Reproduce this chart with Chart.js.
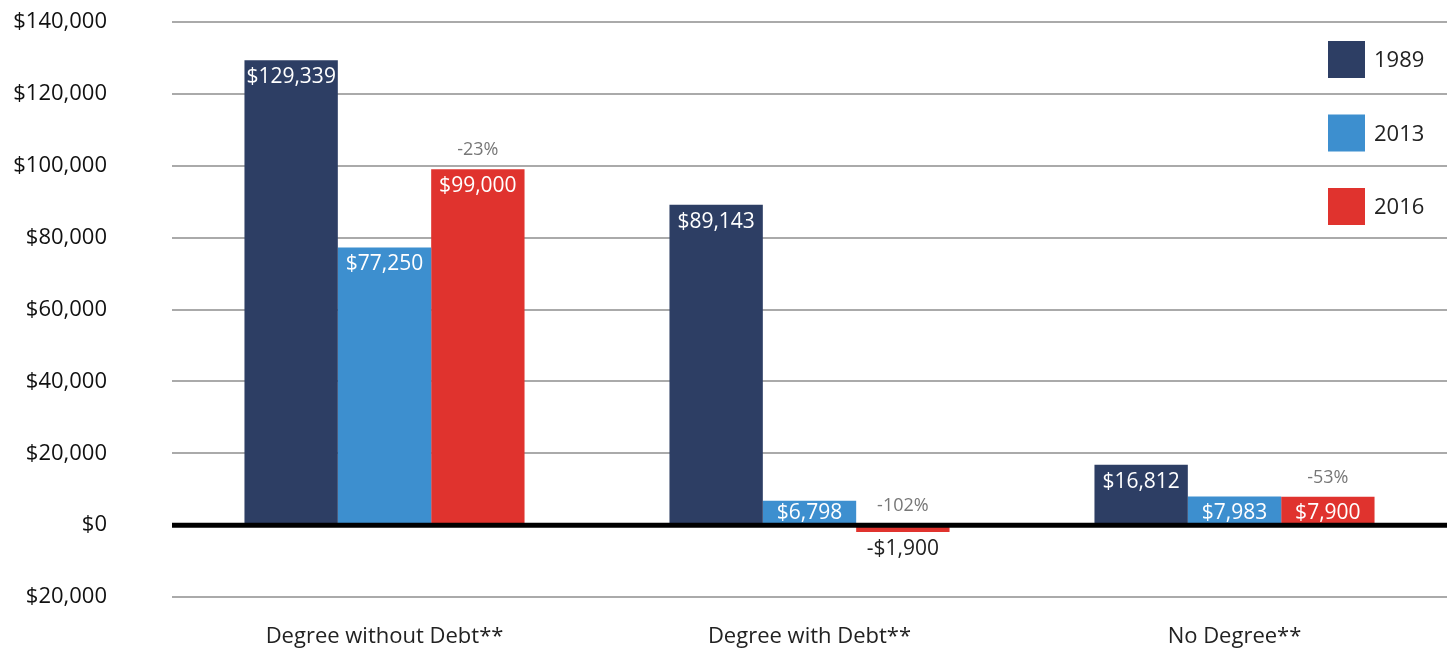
<!DOCTYPE html>
<html>
<head>
<meta charset="utf-8">
<script src="https://cdn.jsdelivr.net/npm/chart.js@4.4.1/dist/chart.umd.min.js"></script>
<style>
  html, body { margin: 0; padding: 0; background: #fff; }
  #wrap { width: 1447px; height: 653px; }
</style>
</head>
<body>
<div id="wrap"><canvas id="barChart"></canvas></div>
<script>
// data
const categories = ['Degree without Debt**', 'Degree with Debt**', 'No Degree**'];
const years = ['1989', '2013', '2016'];
const values1989 = [129339, 89143, 16812];
const values2013 = [77250, 6798, 7983];
const values2016 = [99000, -1900, 7900];
const changeLabels = ['-23%', '-102%', '-53%'];   // shown above the 2016 bars
const yTicks = { min: -20000, max: 140000, step: 20000 };

const colors = ['#2d3e64', '#3d8fcf', '#e0332e'];
const FONT = '"Open Sans", sans-serif';

const money = v => (v < 0 ? '-$' : '$') + Math.abs(v).toLocaleString('en-US');

// zero line on top of bars, labels, legend
const extras = {
  id: 'extras',
  afterDatasetsDraw(chart) {
    const ctx = chart.ctx;
    const area = chart.chartArea;
    const y = chart.scales.y;
    const zero = y.getPixelForValue(0);

    ctx.save();
    ctx.strokeStyle = '#000';
    ctx.lineWidth = 5;
    ctx.beginPath();
    ctx.moveTo(area.left, zero);
    ctx.lineTo(area.right, zero);
    ctx.stroke();

    ctx.textAlign = 'center';
    ctx.textBaseline = 'middle';
    chart.data.datasets.forEach((ds, di) => {
      const meta = chart.getDatasetMeta(di);
      meta.data.forEach((bar, i) => {
        const v = ds.data[i];
        ctx.font = '21px ' + FONT;
        if (v >= 0) {
          ctx.fillStyle = '#fff';
          ctx.fillText(money(v), bar.x, Math.min(bar.y + 17, zero - 12));
        } else {
          ctx.fillStyle = '#222';
          ctx.fillText(money(v), bar.x, bar.y + 17);
        }
        if (di === 2) {
          ctx.font = '18px ' + FONT;
          ctx.fillStyle = '#777';
          ctx.fillText(changeLabels[i], bar.x, Math.min(bar.y, zero) - 19);
        }
      });
    });
    ctx.restore();
  },
  afterDraw(chart) {
    const ctx = chart.ctx;
    ctx.save();
    ctx.font = '22px ' + FONT;
    ctx.textBaseline = 'middle';
    ctx.textAlign = 'left';
    chart.data.datasets.forEach((ds, i) => {
      const top = 41 + i * 73.5;
      ctx.fillStyle = ds.backgroundColor;
      ctx.fillRect(1328, top, 37, 37);
      ctx.fillStyle = '#222';
      ctx.fillText(ds.label, 1374, top + 20);
    });
    ctx.restore();
  }
};

new Chart(document.getElementById('barChart'), {
  type: 'bar',
  data: {
    labels: categories,
    datasets: [
      { label: years[0], data: values1989, backgroundColor: colors[0] },
      { label: years[1], data: values2013, backgroundColor: colors[1] },
      { label: years[2], data: values2016, backgroundColor: colors[2] }
    ]
  },
  options: {
    responsive: true,
    maintainAspectRatio: false,
    animation: false,
    layout: { padding: { top: 22, bottom: 0, left: 0, right: 0 } },
    datasets: { bar: { barPercentage: 1, categoryPercentage: 0.659, borderWidth: 0 } },
    plugins: { legend: { display: false }, tooltip: { enabled: false } },
    scales: {
      x: {
        afterFit(scale) { scale.height = 56; },
        grid: { display: false, drawTicks: false },
        border: { display: false },
        ticks: { color: '#222', font: { family: FONT, size: 22 }, padding: 27 }
      },
      y: {
        min: yTicks.min,
        max: yTicks.max,
        afterFit(scale) {
          scale.width = 172;
          scale.paddingTop = 0;
          scale.paddingBottom = 0;
        },
        grid: {
          drawTicks: false,
          color: ctx => ctx.tick && ctx.tick.value === 0 ? 'rgba(0,0,0,0)' : '#aaa',
          lineWidth: 2
        },
        border: { display: false },
        ticks: {
          stepSize: yTicks.step,
          padding: 65,
          color: '#111',
          font: { family: FONT, size: 22 },
          callback: v => '$' + Math.abs(v).toLocaleString('en-US')
        }
      }
    }
  },
  plugins: [extras]
});
</script>
</body>
</html>
